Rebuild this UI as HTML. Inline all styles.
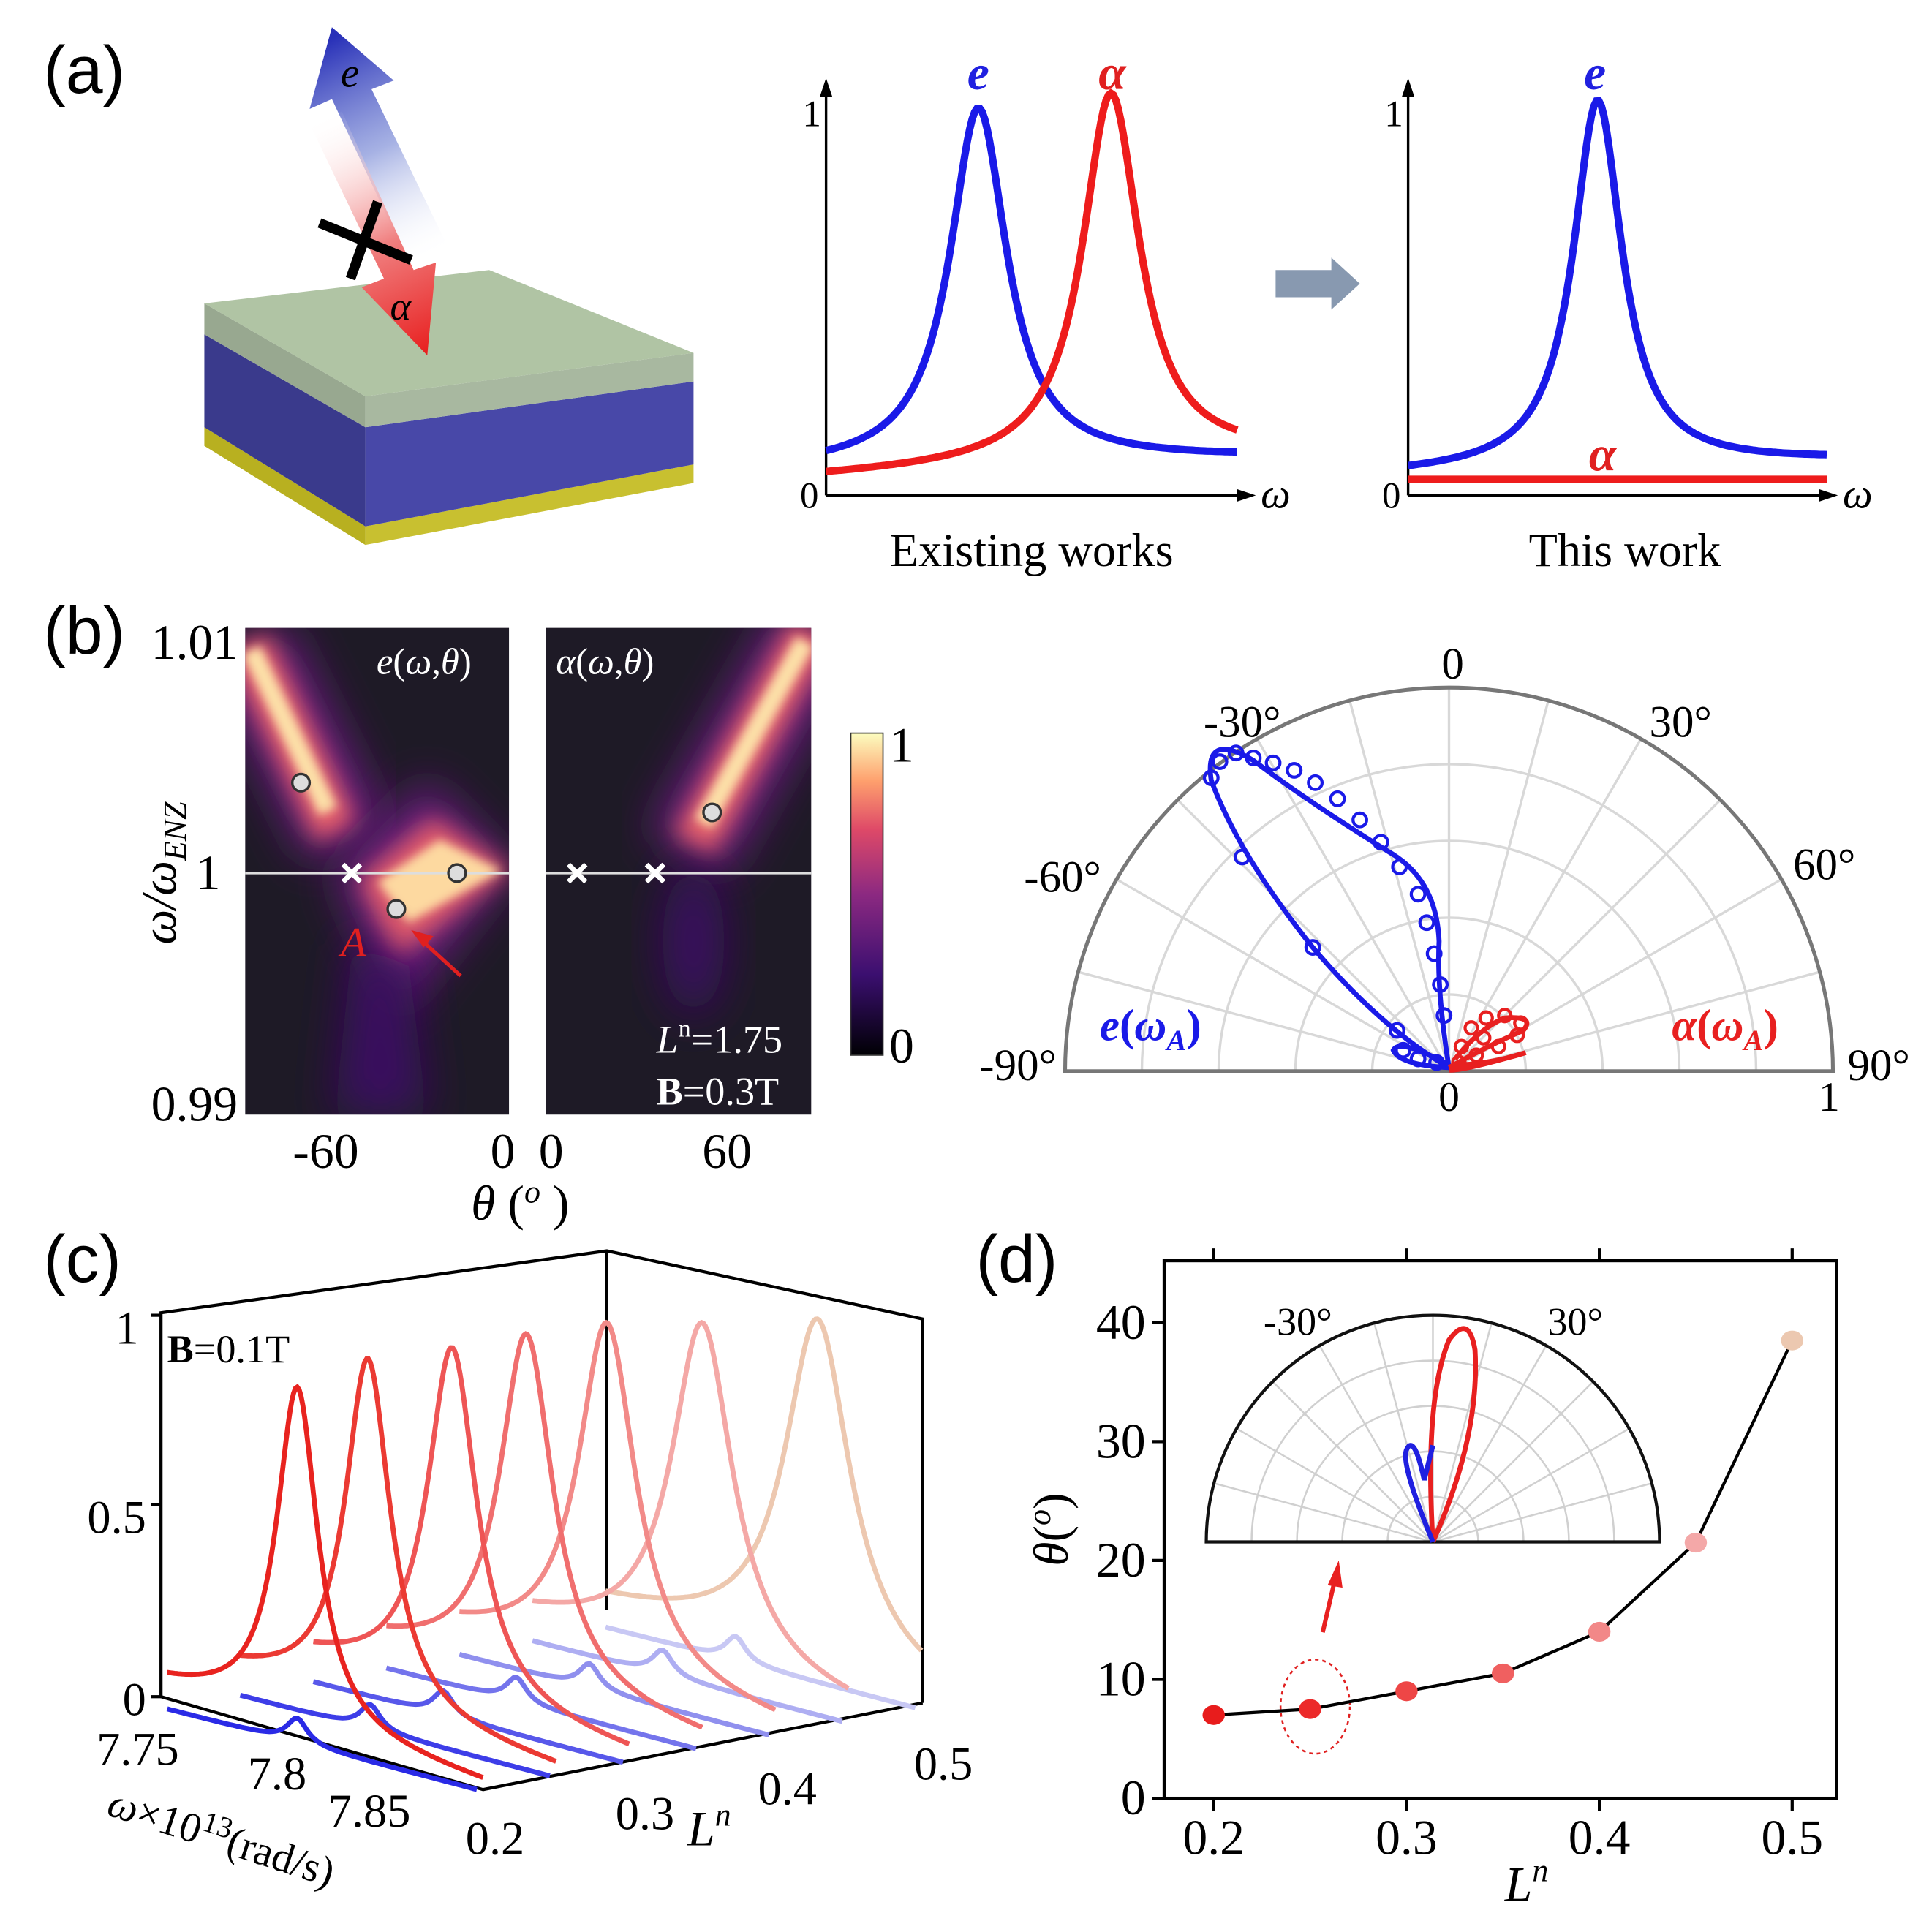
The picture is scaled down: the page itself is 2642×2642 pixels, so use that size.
<!DOCTYPE html>
<html><head><meta charset="utf-8">
<style>
html,body{margin:0;padding:0;background:#fff;}
svg{display:block;}
text{font-family:"Liberation Serif",serif;}
.sans{font-family:"Liberation Sans",sans-serif;}
</style></head>
<body>
<svg id="s" width="2642" height="2642" viewBox="0 0 1560 1560" xmlns="http://www.w3.org/2000/svg">
<defs>
<linearGradient id="cb" x1="0" y1="1" x2="0" y2="0">
<stop offset="0" stop-color="#000004"/><stop offset="0.25" stop-color="#3b0f70"/>
<stop offset="0.5" stop-color="#8c2981"/><stop offset="0.7" stop-color="#de4968"/>
<stop offset="0.85" stop-color="#fe9f6d"/><stop offset="1" stop-color="#fcfdbf"/>
</linearGradient>
<linearGradient id="ga" gradientUnits="userSpaceOnUse" x1="355" y1="205" x2="270" y2="30">
<stop offset="0" stop-color="#fff" stop-opacity="0"/><stop offset="0.5" stop-color="#8090d8" stop-opacity="0.7"/><stop offset="1" stop-color="#2830b8"/>
</linearGradient>
<linearGradient id="gr" gradientUnits="userSpaceOnUse" x1="255" y1="95" x2="345" y2="285">
<stop offset="0" stop-color="#fff" stop-opacity="0"/><stop offset="0.55" stop-color="#f08080"/><stop offset="1" stop-color="#e82020"/>
</linearGradient>
<filter id="b1" x="-50%" y="-50%" width="200%" height="200%"><feGaussianBlur stdDeviation="18"/></filter>
<filter id="b2" x="-50%" y="-50%" width="200%" height="200%"><feGaussianBlur stdDeviation="9"/></filter>
<filter id="b3" x="-50%" y="-50%" width="200%" height="200%"><feGaussianBlur stdDeviation="4"/></filter>
<clipPath id="c1"><rect x="198" y="507" width="213" height="393"/></clipPath>
<clipPath id="c2"><rect x="441" y="507" width="214" height="393"/></clipPath>
</defs>

<!-- (a) -->
<text x="35" y="75" font-size="54" class="sans">(a)</text>
<polygon points="165,360 295,440 295,425 165,345" fill="#b8b020"/>
<polygon points="295,440 560,390 560,375 295,425" fill="#c8c030"/>
<polygon points="165,270 295,345 295,425 165,345" fill="#3a3a8c"/>
<polygon points="295,345 560,308 560,375 295,425" fill="#4848a8"/>
<polygon points="165,245 295,320 295,345 165,270" fill="#98a890"/>
<polygon points="295,320 560,285 560,308 295,345" fill="#a8b8a0"/>
<polygon points="165,245 395,218 560,285 295,320" fill="#b0c4a4"/>
<polygon points="362,200 300,72 318,65 268,22 250,88 268,80 330,212" fill="url(#ga)"/>
<polygon points="250,100 310,225 292,232 345,287 352,212 334,218 276,90" fill="url(#gr)"/>
<text x="275" y="70" font-size="34" font-style="italic">e</text>
<text x="315" y="258" font-size="32" font-style="italic">α</text>
<line x1="258" y1="180" x2="332" y2="210" stroke="#000" stroke-width="8"/>
<line x1="305" y1="163" x2="283" y2="225" stroke="#000" stroke-width="8"/>

<g stroke="#000" stroke-width="2" fill="none">
<line x1="667" y1="400" x2="667" y2="72"/><line x1="667" y1="400" x2="1005" y2="400"/>
<line x1="1137" y1="400" x2="1137" y2="72"/><line x1="1137" y1="400" x2="1475" y2="400"/>
</g>
<polygon points="667,63 662,78 672,78"/><polygon points="1014,400 999,395 999,405"/>
<polygon points="1137,63 1132,78 1142,78"/><polygon points="1484,400 1469,395 1469,405"/>
<text x="648" y="102" font-size="30">1</text><text x="646" y="410" font-size="30">0</text>
<text x="1118" y="102" font-size="30">1</text><text x="1116" y="410" font-size="30">0</text>
<text x="1018" y="410" font-size="34" font-style="italic">ω</text>
<text x="1488" y="410" font-size="34" font-style="italic">ω</text>
<text x="781" y="72" font-size="40" font-style="italic" font-weight="bold" fill="#2020e0">e</text>
<text x="887" y="72" font-size="40" font-style="italic" font-weight="bold" fill="#e02020">α</text>
<text x="1279" y="72" font-size="40" font-style="italic" font-weight="bold" fill="#2020e0">e</text>
<text x="1283" y="380" font-size="40" font-style="italic" font-weight="bold" fill="#e02020">α</text>
<text x="833" y="457" font-size="38" text-anchor="middle">Existing works</text>
<text x="1312" y="457" font-size="38" text-anchor="middle">This work</text>
<polygon points="1030,218 1075,218 1075,208 1098,229 1075,250 1075,240 1030,240" fill="#8899b0"/>
<line x1="1137" y1="387" x2="1475" y2="387" stroke="#ee1c1c" stroke-width="6"/>
<path id="pa1" fill="none" stroke="#1a1ae8" stroke-width="6"/>
<path id="pa2" fill="none" stroke="#ee1c1c" stroke-width="6"/>
<path id="pa3" fill="none" stroke="#1a1ae8" stroke-width="6"/>

<!-- (b) heatmaps -->
<text x="35" y="528" font-size="54" class="sans">(b)</text>
<rect x="198" y="507" width="213" height="393" fill="#1e1a26"/>
<rect x="441" y="507" width="214" height="393" fill="#1e1a26"/>
<g clip-path="url(#c1)">
<line x1="200" y1="520" x2="280" y2="680" stroke="#6a1d80" stroke-width="70" filter="url(#b1)"/>
<line x1="200" y1="520" x2="272" y2="672" stroke="#e8606a" stroke-width="36" filter="url(#b2)"/>
<line x1="203" y1="525" x2="265" y2="655" stroke="#fce0a8" stroke-width="16" filter="url(#b3)"/>
<polygon points="270,705 345,630 415,700 320,820" fill="#6a1d80" filter="url(#b1)"/>
<polygon points="290,710 350,660 412,702 320,775" fill="#e05a6a" filter="url(#b2)"/>
<polygon points="305,712 355,678 405,703 330,745" fill="#fdd9a0" filter="url(#b3)"/>
<polygon points="285,760 330,780 345,900 270,900" fill="#3b1060" filter="url(#b1)"/>
</g>
<g clip-path="url(#c2)">
<line x1="660" y1="505" x2="555" y2="690" stroke="#6a1d80" stroke-width="70" filter="url(#b1)"/>
<line x1="655" y1="510" x2="560" y2="682" stroke="#e8606a" stroke-width="36" filter="url(#b2)"/>
<line x1="650" y1="518" x2="568" y2="665" stroke="#fce0a8" stroke-width="16" filter="url(#b3)"/>
<ellipse cx="560" cy="760" rx="25" ry="60" fill="#3b1060" filter="url(#b1)"/>
</g>
<line x1="198" y1="705" x2="411" y2="705" stroke="#ddd" stroke-width="2"/>
<line x1="441" y1="705" x2="655" y2="705" stroke="#ddd" stroke-width="2"/>
<g fill="#ddd" stroke="#333" stroke-width="2">
<circle cx="243" cy="632" r="7"/><circle cx="369" cy="705" r="7"/><circle cx="320" cy="734" r="7"/><circle cx="575" cy="656" r="7"/>
</g>
<g stroke="#fff" stroke-width="4">
<path d="M277,698 l14,14 M291,698 l-14,14"/><path d="M459,698 l14,14 M473,698 l-14,14"/><path d="M522,698 l14,14 M536,698 l-14,14"/>
</g>
<line x1="372" y1="788" x2="338" y2="757" stroke="#e02020" stroke-width="3"/>
<polygon points="332,751 350,756 342,765" fill="#e02020"/>
<text x="275" y="772" font-size="34" font-style="italic" fill="#e02020">A</text>
<text x="304" y="544" font-size="30" fill="#fff"><tspan font-style="italic">e</tspan>(<tspan font-style="italic">ω</tspan>,<tspan font-style="italic">θ</tspan>)</text>
<text x="449" y="544" font-size="30" fill="#fff"><tspan font-style="italic">α</tspan>(<tspan font-style="italic">ω</tspan>,<tspan font-style="italic">θ</tspan>)</text>
<text x="530" y="850" font-size="32" fill="#fff"><tspan font-style="italic">L</tspan><tspan font-size="20" dy="-13">n</tspan><tspan dy="13">=1.75</tspan></text>
<text x="530" y="892" font-size="32" fill="#fff"><tspan font-weight="bold">B</tspan>=0.3T</text>
<text x="192" y="532" font-size="40" text-anchor="end">1.01</text>
<text x="178" y="718" font-size="40" text-anchor="end">1</text>
<text x="192" y="905" font-size="40" text-anchor="end">0.99</text>
<text transform="translate(142,705) rotate(-90)" font-size="40" text-anchor="middle" font-style="italic">ω/ω<tspan font-size="26" dy="8">ENZ</tspan></text>
<text x="263" y="943" font-size="40" text-anchor="middle">-60</text>
<text x="406" y="943" font-size="40" text-anchor="middle">0</text>
<text x="445" y="943" font-size="40" text-anchor="middle">0</text>
<text x="587" y="943" font-size="40" text-anchor="middle">60</text>
<text x="420" y="985" font-size="40" text-anchor="middle"><tspan font-style="italic">θ</tspan> (<tspan font-size="26" dy="-14" font-style="italic">o</tspan><tspan dy="14"> )</tspan></text>
<rect x="687" y="592" width="26" height="260" fill="url(#cb)" stroke="#333" stroke-width="1"/>
<text x="718" y="615" font-size="40">1</text><text x="718" y="858" font-size="40">0</text>

<!-- polar (b) -->
<g id="pol" fill="none" stroke="#d8d8d8" stroke-width="2"></g>
<path d="M860,865 A310,310 0 0 1 1480,865 Z" fill="none" stroke="#777" stroke-width="3"/>
<line x1="860" y1="865" x2="1480" y2="865" stroke="#777" stroke-width="3"/>
<path d="M1170,862 Q1160,800 1162,760 Q1160,712 1125,690 Q1060,650 1012,614 Q972,590 978,630 Q1000,690 1060,765 Q1115,830 1170,862 Z M1170,862 Q1130,860 1125,848 Q1130,838 1170,860" fill="none" stroke="#1a1ae8" stroke-width="4"/>
<g fill="none" stroke="#1a1ae8" stroke-width="2.5" id="bm"></g>
<path d="M1170,862 Q1200,845 1230,832 Q1240,820 1215,822 Q1195,830 1175,855 M1172,860 Q1200,860 1232,850 Q1180,865 1170,864" fill="none" stroke="#e82020" stroke-width="4"/>
<g fill="none" stroke="#e82020" stroke-width="2.5">
<circle cx="1188" cy="830" r="5"/><circle cx="1200" cy="822" r="5"/><circle cx="1215" cy="820" r="5"/><circle cx="1228" cy="826" r="5"/><circle cx="1225" cy="836" r="5"/><circle cx="1210" cy="845" r="5"/><circle cx="1192" cy="852" r="5"/><circle cx="1180" cy="845" r="5"/><circle cx="1178" cy="858" r="5"/><circle cx="1198" cy="838" r="5"/>
</g>
<text x="1173" y="548" font-size="36" text-anchor="middle">0</text>
<text x="1003" y="595" font-size="36" text-anchor="middle">-30°</text>
<text x="1357" y="595" font-size="36" text-anchor="middle">30°</text>
<text x="858" y="720" font-size="36" text-anchor="middle">-60°</text>
<text x="1473" y="710" font-size="36" text-anchor="middle">60°</text>
<text x="822" y="872" font-size="36" text-anchor="middle">-90°</text>
<text x="1517" y="872" font-size="36" text-anchor="middle">90°</text>
<text x="1170" y="897" font-size="34" text-anchor="middle">0</text>
<text x="1477" y="897" font-size="34" text-anchor="middle">1</text>
<text x="888" y="840" font-size="36" font-weight="bold" fill="#1a1ae8"><tspan font-style="italic">e</tspan>(<tspan font-style="italic">ω</tspan><tspan font-size="24" dy="8" font-style="italic">A</tspan><tspan dy="-8">)</tspan></text>
<text x="1350" y="840" font-size="36" font-weight="bold" fill="#e82020"><tspan font-style="italic">α</tspan>(<tspan font-style="italic">ω</tspan><tspan font-size="24" dy="8" font-style="italic">A</tspan><tspan dy="-8">)</tspan></text>

<!-- (c) -->
<text x="35" y="1035" font-size="54" class="sans">(c)</text>
<g stroke="#000" stroke-width="2.5" fill="none">
<polyline points="130,1370 130,1060 490,1010 745,1065 745,1375"/>
<line x1="490" y1="1010" x2="490" y2="1300"/>
<line x1="130" y1="1370" x2="390" y2="1445"/><line x1="390" y1="1445" x2="745" y2="1375"/>
<line x1="130" y1="1215" x2="122" y2="1215"/><line x1="130" y1="1370" x2="122" y2="1370"/><line x1="130" y1="1062" x2="122" y2="1062"/>
</g>
<g id="cc"></g>
<text x="135" y="1100" font-size="32"><tspan font-weight="bold">B</tspan>=0.1T</text>
<text x="112" y="1085" font-size="38" text-anchor="end">1</text>
<text x="118" y="1238" font-size="38" text-anchor="end">0.5</text>
<text x="118" y="1385" font-size="38" text-anchor="end">0</text>
<text x="78" y="1425" font-size="38">7.75</text>
<text x="200" y="1445" font-size="38">7.8</text>
<text x="265" y="1475" font-size="38">7.85</text>
<text x="376" y="1497" font-size="38">0.2</text>
<text x="497" y="1477" font-size="38">0.3</text>
<text x="612" y="1457" font-size="38">0.4</text>
<text x="738" y="1437" font-size="38">0.5</text>
<text transform="translate(85,1465) rotate(18)" font-size="34"><tspan font-style="italic">ω</tspan>×10<tspan font-size="24" dy="-12">13</tspan><tspan dy="12">(rad/s)</tspan></text>
<text x="555" y="1490" font-size="40" font-style="italic">L<tspan font-size="26" dy="-16">n</tspan></text>

<!-- (d) -->
<text x="788" y="1035" font-size="54" class="sans">(d)</text>
<rect x="940" y="1018" width="543" height="434" fill="none" stroke="#000" stroke-width="2.5"/>
<g id="dt" stroke="#000" stroke-width="2.5"></g>
<g id="inset" fill="none" stroke="#d0d0d0" stroke-width="1.5"></g>
<path d="M974,1245 A183,183 0 0 1 1340,1245 Z" fill="none" stroke="#111" stroke-width="2.5"/>
<path d="M1157,1245 Q1150,1130 1170,1082 Q1186,1060 1191,1090 Q1195,1160 1157,1245" fill="none" stroke="#e82020" stroke-width="4"/>
<path d="M1157,1245 Q1130,1180 1136,1170 Q1142,1158 1150,1195 Q1155,1175 1157,1167" fill="none" stroke="#2020e0" stroke-width="4"/>
<text x="1048" y="1078" font-size="32" text-anchor="middle">-30°</text>
<text x="1272" y="1078" font-size="32" text-anchor="middle">30°</text>
<line x1="1068" y1="1318" x2="1078" y2="1275" stroke="#e82020" stroke-width="3.5"/>
<polygon points="1081,1260 1072,1280 1084,1282" fill="#e82020"/>
<ellipse cx="1062" cy="1378" rx="28" ry="38" fill="none" stroke="#e02020" stroke-width="1.5" stroke-dasharray="3,3"/>
<polyline id="dl" fill="none" stroke="#000" stroke-width="2.5"/>
<g id="dp"></g>
<text transform="translate(862,1235) rotate(-90)" font-size="40" text-anchor="middle"><tspan font-style="italic">θ</tspan>(<tspan font-size="26" dy="-14" font-style="italic">o</tspan><tspan dy="14">)</tspan></text>
<text x="1215" y="1535" font-size="40" font-style="italic">L<tspan font-size="26" dy="-16">n</tspan></text>
</svg>
<script>
var NS="http://www.w3.org/2000/svg";
function el(t,a,p){var e=document.createElementNS(NS,t);for(var k in a)e.setAttribute(k,a[k]);(p||document.getElementById('s')).appendChild(e);return e;}
function lor(x0,x1,base,c,w,h,b2){var d="";for(var x=x0;x<=x1;x+=2){var bb=base+(b2-base)*(x-x0)/(x1-x0);var y=bb-h/(1+Math.pow((x-c)/w,2));d+=(x==x0?"M":"L")+x+","+y.toFixed(1);}return d;}
document.getElementById('pa1').setAttribute('d',lor(667,1000,378,790,28,288,370));
document.getElementById('pa2').setAttribute('d',lor(667,1000,385,897,28,298,368));
document.getElementById('pa3').setAttribute('d',lor(1137,1475,383,1290,24,297,372));
var g=document.getElementById('pol'),cx=1170,cy=865;
for(var r=62;r<310;r+=62)el('path',{d:'M'+(cx-r)+','+cy+' A'+r+','+r+' 0 0 1 '+(cx+r)+','+cy},g);
for(var a=-75;a<=75;a+=15){var t=a*Math.PI/180;el('line',{x1:cx,y1:cy,x2:cx+310*Math.sin(t),y2:cy-310*Math.cos(t)},g);}
var bm=document.getElementById('bm');
[[978,628],[985,615],[998,608],[1012,612],[1028,616],[1045,622],[1062,632],[1080,645],[1098,662],[1115,680],[1130,700],[1145,722],[1152,745],[1158,770],[1163,795],[1166,820],[1003,692],[1060,765],[1128,832],[1133,848],[1145,855],[1160,858]].forEach(function(p){el('circle',{cx:p[0],cy:p[1],r:5.5},bm);});
// (c)
var cc=document.getElementById('cc');
var bc=['#2a2ae6','#3d3de8','#5858ea','#7474ec','#9090ee','#aeaef2','#c8c8f4'];
var rc=['#e8231f','#eb3a33','#ee5555','#f06e6e','#f28a88','#f4a8a6','#edc8b0'];
var pk=[240,297,365,425,490,567,660];
var pt=[1120,1097,1088,1077,1068,1068,1065];
for(var i=6;i>=0;i--){
 var ox=59*i, oy=-11*i;
 var d="";for(var t=0;t<=1.0001;t+=0.01){var x=135+ox+250*t,y=1380+oy+65*t-20/(1+Math.pow((t-0.42)/0.04,2));d+=(t==0?"M":"L")+x.toFixed(1)+","+y.toFixed(1);}
 el('path',{d:d,fill:'none',stroke:bc[i],'stroke-width':4},cc);
}
for(var i=6;i>=0;i--){
 var x0=135+59*i, x1=390+59*i, y0=1360-11*i, y1=1440-12*i;
 if(x1>745){x1=745;}
 var c=pk[i];
 var bpk=y0+(y1-y0)*(c-x0)/(x1-x0);
 var h=bpk-pt[i]; var w=20+2*i;
 var d="";for(var x=x0;x<=x1;x+=1.5){var bb=y0+(y1-y0)*(x-x0)/(x1-x0);var y=bb-h/(1+Math.pow((x-c)/w,2));d+=(x==x0?"M":"L")+x.toFixed(1)+","+y.toFixed(1);}
 el('path',{d:d,fill:'none',stroke:rc[i],'stroke-width':4},cc);
}
var dt=document.getElementById('dt');
for(var k=0;k<4;k++){var x=980+155.7*k;el('line',{x1:x,y1:1452,x2:x,y2:1462},dt);el('line',{x1:x,y1:1018,x2:x,y2:1008},dt);var tx=el('text',{x:x,y:1497,'font-size':40,'text-anchor':'middle'});tx.textContent=['0.2','0.3','0.4','0.5'][k];}
for(var k=0;k<5;k++){var y=1452-96*k;el('line',{x1:940,y1:y,x2:930,y2:y},dt);var tx=el('text',{x:925,y:y+13,'font-size':40,'text-anchor':'end'});tx.textContent=String(10*k);}
var ig=document.getElementById('inset'),icx=1157,icy=1245;
for(var r=36.6;r<183;r+=36.6)el('path',{d:'M'+(icx-r)+','+icy+' A'+r+','+r+' 0 0 1 '+(icx+r)+','+icy},ig);
for(var a=-75;a<=75;a+=15){var t=a*Math.PI/180;el('line',{x1:icx,y1:icy,x2:icx+183*Math.sin(t),y2:icy-183*Math.cos(t)},ig);}
var pts=[[0.2,7],[0.25,7.5],[0.3,9],[0.35,10.5],[0.4,14],[0.45,21.5],[0.5,38.5]],cols=['#e81c1c','#ec2a2a','#ee4646','#f06060','#f28888','#f4a8a8','#ecc8b0'];
var s="";pts.forEach(function(p){s+=(980+(p[0]-0.2)*1557)+","+(1452-p[1]*9.6)+" ";});
document.getElementById('dl').setAttribute('points',s);
var dp=document.getElementById('dp');
pts.forEach(function(p,i){el('ellipse',{cx:980+(p[0]-0.2)*1557,cy:1452-p[1]*9.6,rx:9,ry:8,fill:cols[i]},dp);});
</script>
</body></html>
